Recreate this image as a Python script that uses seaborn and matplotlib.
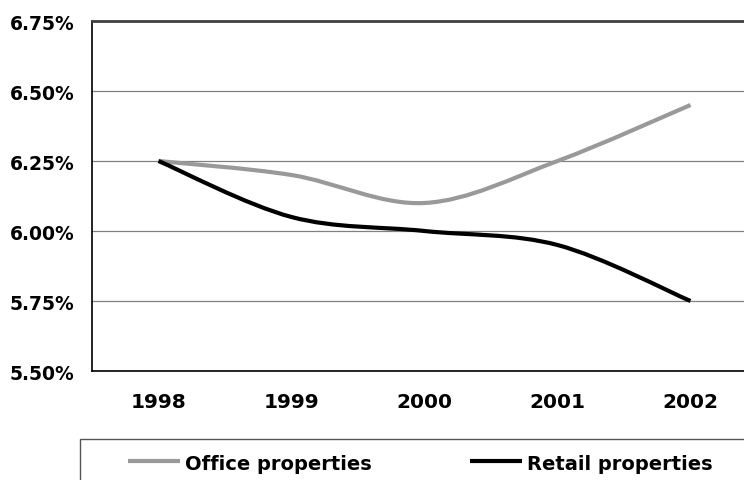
import numpy as np
import pandas as pd
import matplotlib
matplotlib.use("Agg")
import matplotlib.pyplot as plt
from matplotlib.path import Path
from matplotlib.patches import PathPatch, Rectangle
from matplotlib.lines import Line2D
from matplotlib.ticker import FixedLocator, FuncFormatter
import seaborn as sns

# Yield data (%)
years = ["1998", "1999", "2000", "2001", "2002"]
office = [6.25, 6.20, 6.10, 6.25, 6.45]
retail = [6.25, 6.05, 6.00, 5.95, 5.75]
series_names = ["Office properties", "Retail properties"]
series_colors = ["#999999", "#000000"]
y_ticks = [5.50, 5.75, 6.00, 6.25, 6.50, 6.75]

sns.set_style("white")
plt.rcParams["font.family"] = ["DejaVu Sans"]
plt.rcParams["font.weight"] = "bold"
plt.rcParams["text.color"] = "black"
plt.rcParams["xtick.color"] = "black"
plt.rcParams["ytick.color"] = "black"
plt.rcParams["xtick.labelcolor"] = "black"
plt.rcParams["ytick.labelcolor"] = "black"

W, H = 744, 481
fig = plt.figure(figsize=(W / 100, H / 100), dpi=100)
ax = fig.add_axes([92 / W, 109 / H, 665 / W, 350 / H])

pos = np.arange(len(years))
df = pd.DataFrame({
    "pos": np.concatenate([pos, pos]),
    "rate": office + retail,
    "series": [series_names[0]] * len(years) + [series_names[1]] * len(years),
})
sns.lineplot(data=df, x="pos", y="rate", hue="series",
             palette=dict(zip(series_names, series_colors)),
             linewidth=0, legend=False, ax=ax)


def smooth_path(xs, ys):
    """Cubic Bezier path through the points (Catmull-Rom style smoothing)."""
    pts = np.column_stack([xs, ys]).astype(float)
    n = len(pts)
    verts = [pts[0]]
    codes = [Path.MOVETO]
    for i in range(n - 1):
        p_prev = pts[i - 1] if i > 0 else pts[i]
        p_next2 = pts[i + 2] if i + 2 < n else pts[i + 1]
        c1 = pts[i] + (pts[i + 1] - p_prev) / 6.0
        c2 = pts[i + 1] - (p_next2 - pts[i]) / 6.0
        verts += [c1, c2, pts[i + 1]]
        codes += [Path.CURVE4] * 3
    return Path(verts, codes)


for vals, color in zip([office, retail], series_colors):
    ax.add_patch(PathPatch(smooth_path(pos, vals), fill=False, edgecolor=color,
                           linewidth=3.0, capstyle="butt", joinstyle="round",
                           zorder=3))

ax.set_xlim(-0.5, len(years) - 0.5)
ax.set_ylim(5.50, 6.75)

# y axis
ax.yaxis.set_major_locator(FixedLocator(y_ticks))
ax.yaxis.set_major_formatter(FuncFormatter(lambda v, p: f"{v:.2f}%"))
ax.tick_params(axis="y", which="major", direction="out", length=4, width=1,
               color="black", labelcolor="black", pad=8.5, labelsize=13.5)
for lab in ax.get_yticklabels():
    lab.set_fontweight("bold")
ax.grid(axis="y", color="#808080", linewidth=0.9)
ax.grid(axis="x", visible=False)

# x axis: marks at category boundaries, labels at category centers
ax.set_xticks(np.arange(len(years) + 1) - 0.5)
ax.set_xticklabels([])
ax.set_xticks(pos, minor=True)
ax.set_xticklabels(years, minor=True, fontsize=14.5, fontweight="bold",
                   color="black")
ax.tick_params(axis="x", which="major", direction="out", length=5.5, width=1,
               color="black")
ax.tick_params(axis="x", which="minor", length=0, pad=15)
ax.set_xlabel("")
ax.set_ylabel("")

for side in ["left", "bottom"]:
    ax.spines[side].set_color("black")
    ax.spines[side].set_linewidth(1.2)
ax.spines["right"].set_visible(False)
ax.spines["top"].set_color("#404040")
ax.spines["top"].set_linewidth(2.0)

# Legend box and entries
fig.add_artist(Rectangle((80 / W, -0.2), 1.0, 0.2 + 41 / H,
                         transform=fig.transFigure, fill=False,
                         edgecolor="#555555", linewidth=1.0))
legend_y = (H - 462) / H
base_y = (H - 470) / H
entries = [(128, 180, 185), (470, 522, 527)]
for (x0, x1, xt), name, color in zip(entries, series_names, series_colors):
    fig.add_artist(Line2D([x0 / W, x1 / W], [legend_y, legend_y],
                          transform=fig.transFigure, color=color,
                          linewidth=3.0, solid_capstyle="butt"))
    fig.text(xt / W, base_y, name, fontsize=14, fontweight="bold",
             color="black", ha="left", va="baseline")

fig.savefig("out.png", dpi=100)
